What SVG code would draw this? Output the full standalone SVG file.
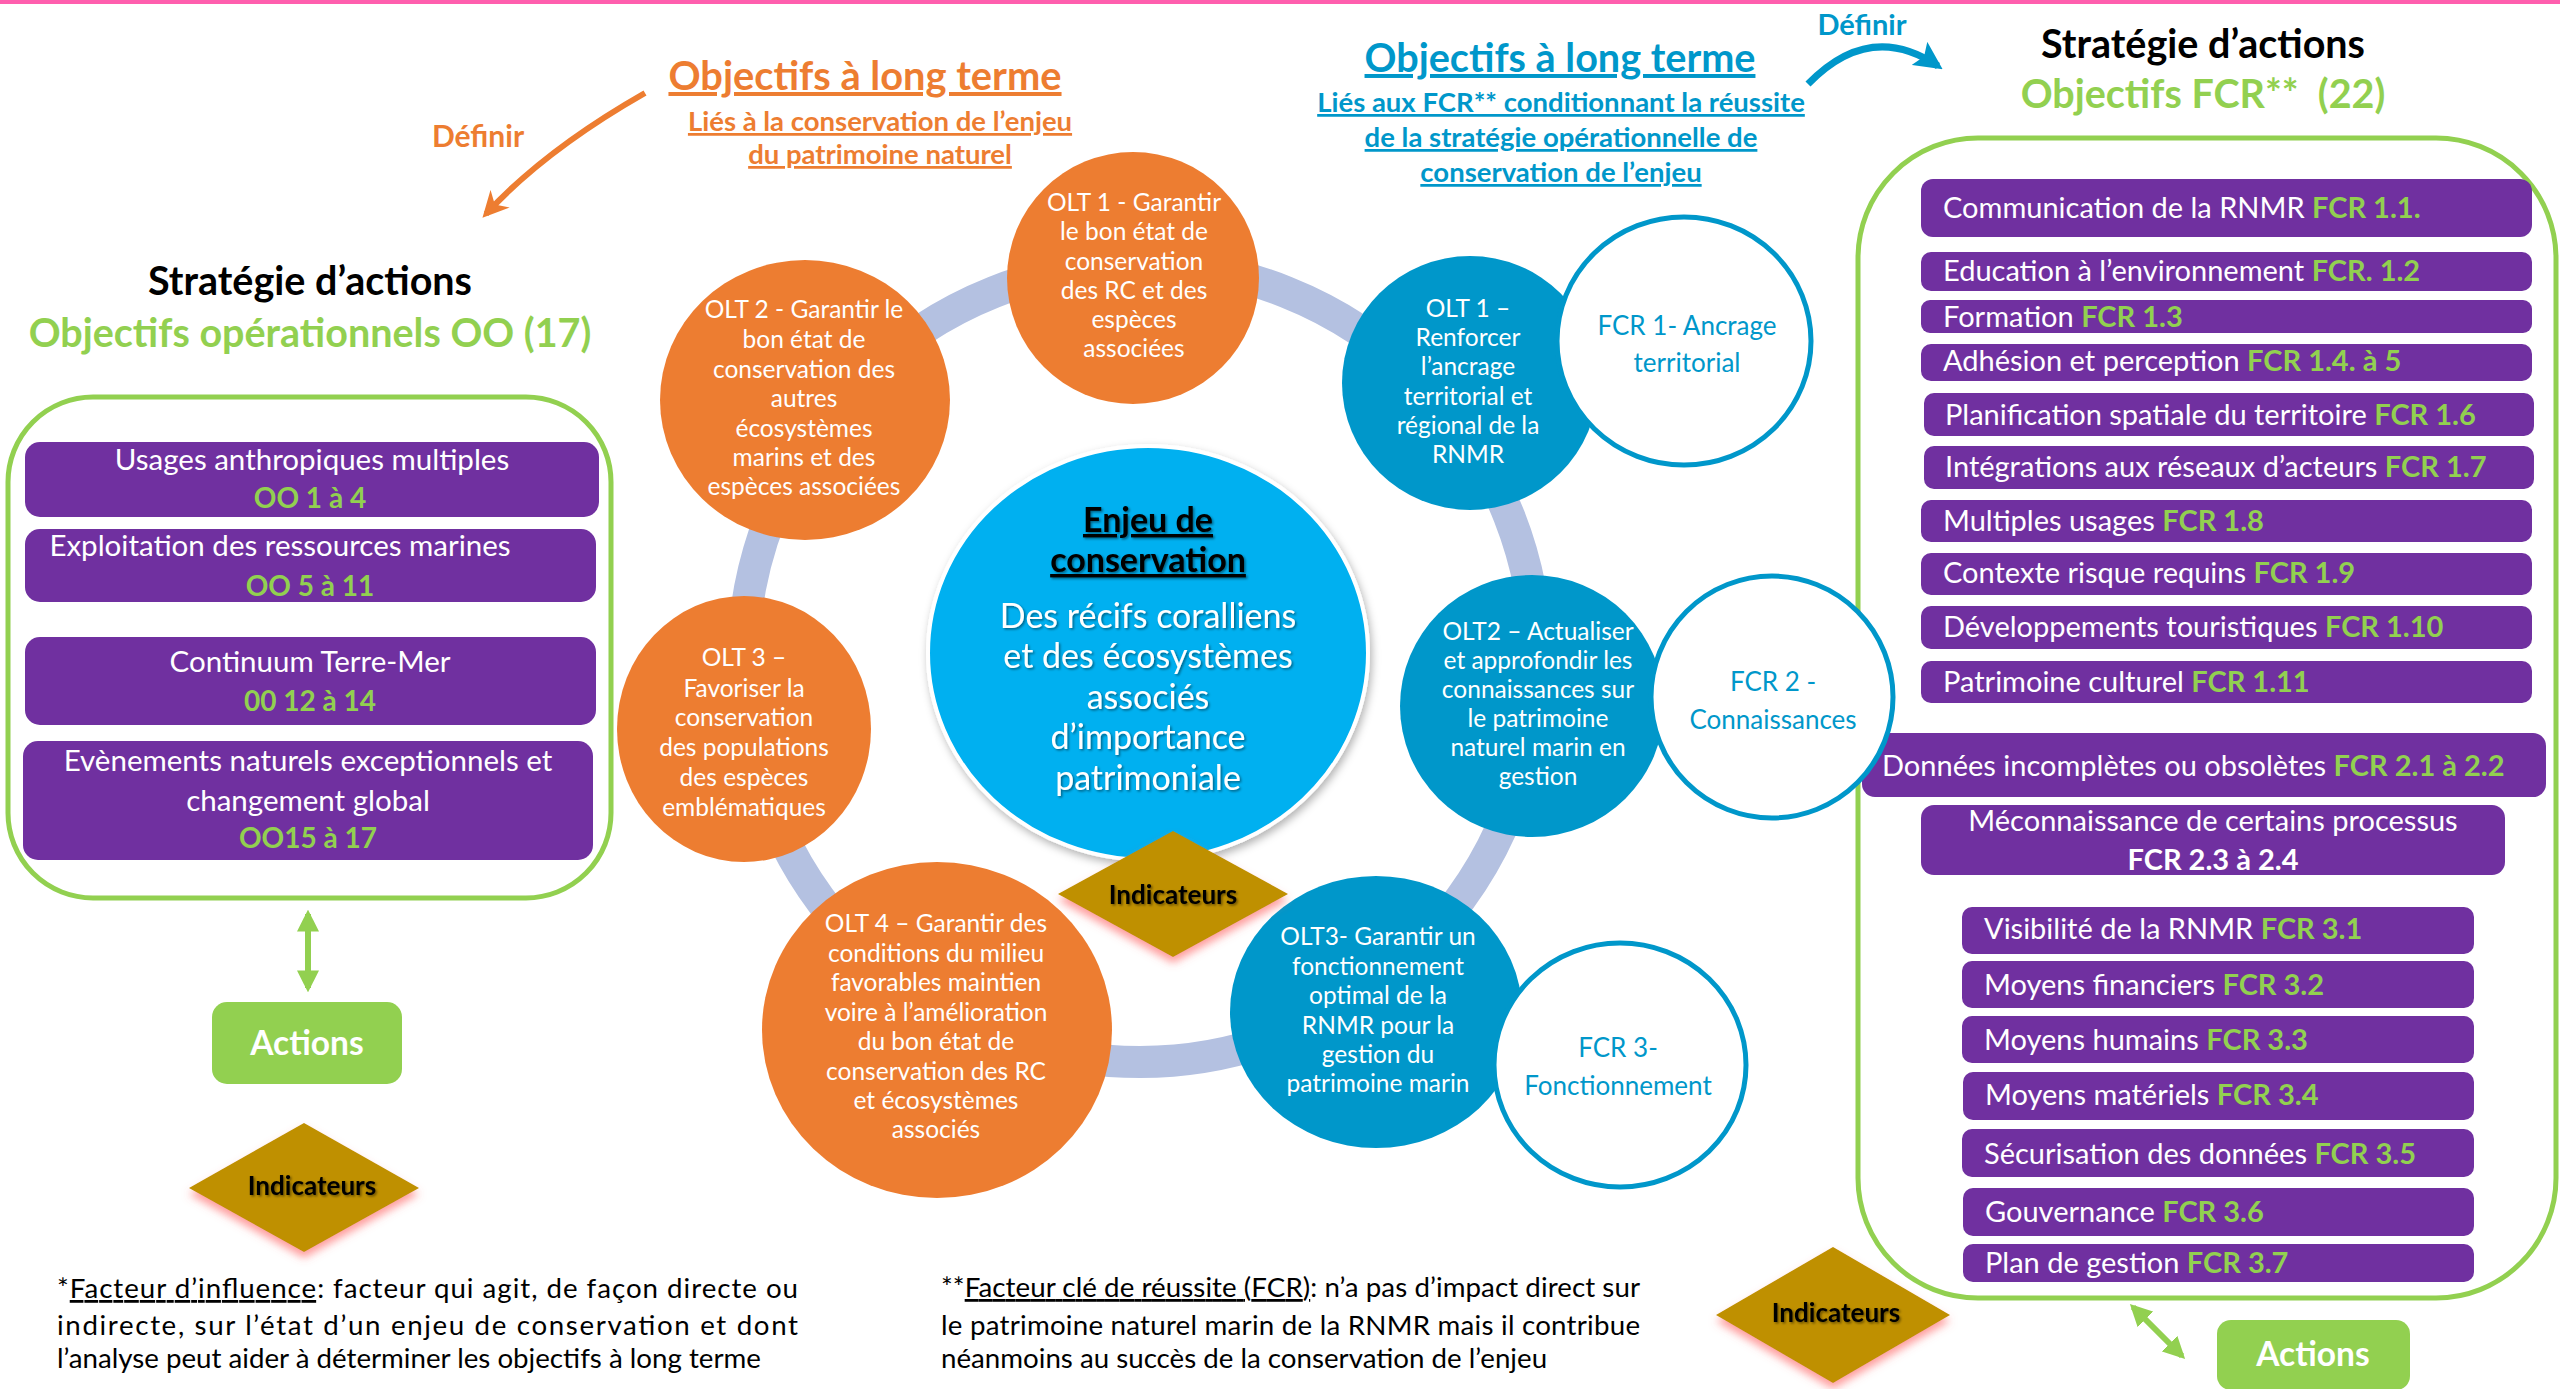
<svg xmlns="http://www.w3.org/2000/svg" width="2560" height="1389" viewBox="0 0 2560 1389">
<defs>
<style>
text{font-family:Lato,"Open Sans","Liberation Sans",sans-serif;}
.w{fill:#fff;}
.g{fill:#92D050;font-weight:bold;}
.olt{fill:#fff;font-size:24.5px;text-anchor:middle;}
.fcrc{fill:#0097CA;font-size:26px;text-anchor:middle;}
.bar{fill:#7030A0;}
.rb{fill:#fff;font-size:29px;}
.lb{fill:#fff;font-size:29.5px;text-anchor:middle;}
.lbg{fill:#92D050;font-size:28px;font-weight:bold;text-anchor:middle;}
.ind{font-size:26px;font-weight:bold;fill:#000;text-anchor:middle;}
.act{font-size:33.5px;font-weight:bold;fill:#fff;text-anchor:middle;}
.foot{font-size:27.7px;fill:#000;}
.ttl{font-size:39.5px;font-weight:bold;text-anchor:middle;}
.u{text-decoration:underline;}
</style>
<filter id="tsh" x="-10%" y="-20%" width="130%" height="150%"><feDropShadow dx="1.5" dy="1.5" stdDeviation="1" flood-color="#000" flood-opacity="0.45"/></filter>
<filter id="dglow" x="-20%" y="-20%" width="140%" height="150%"><feDropShadow dx="0" dy="6" stdDeviation="4" flood-color="#ff5a5a" flood-opacity="0.6"/></filter>
<filter id="csh" x="-10%" y="-10%" width="120%" height="125%"><feDropShadow dx="2" dy="4" stdDeviation="4" flood-color="#000" flood-opacity="0.3"/></filter>
<marker id="aOr" viewBox="0 0 10 10" refX="8" refY="5" markerWidth="26" markerHeight="26" markerUnits="userSpaceOnUse" orient="auto"><path d="M0,0 L10,5 L0,10 L3,5 z" fill="#ED7D31"/></marker>
<marker id="aBl" viewBox="0 0 10 10" refX="8" refY="5" markerWidth="28" markerHeight="28" markerUnits="userSpaceOnUse" orient="auto"><path d="M0,0 L10,5 L0,10 L2,5 z" fill="#0097CA"/></marker>
<marker id="aGr" viewBox="0 0 10 10" refX="8" refY="5" markerWidth="22" markerHeight="22" markerUnits="userSpaceOnUse" orient="auto-start-reverse"><path d="M0,0 L10,5 L0,10 z" fill="#92D050"/></marker>
</defs>
<rect width="2560" height="1389" fill="#fff"/>
<rect x="0" y="0" width="2560" height="4" fill="#FF5FAE"/>

<!-- Left headings -->
<g id="titre-olt-orange">
<text x="865" y="90" font-size="39.8" font-weight="bold" fill="#ED7D31" text-anchor="middle" class="u">Objectifs à long terme</text>
<text x="880" y="131" font-size="27.5" font-weight="bold" fill="#ED7D31" text-anchor="middle" class="u">Liés à la conservation de l’enjeu</text>
<text x="880" y="164" font-size="27.5" font-weight="bold" fill="#ED7D31" text-anchor="middle" class="u">du patrimoine naturel</text>
</g>
<g id="definir-gauche"><text x="478" y="147" font-size="30" font-weight="bold" fill="#ED7D31" text-anchor="middle">Définir</text></g>
<g id="strat-gauche">
<text x="310" y="295" class="ttl" fill="#000">Stratégie d’actions</text>
<text x="310" y="347" class="ttl" fill="#92D050">Objectifs opérationnels OO (17)</text>
</g>

<!-- Right headings -->
<g id="titre-olt-bleu">
<text x="1560" y="72" font-size="39.6" font-weight="bold" fill="#0097CA" text-anchor="middle" class="u">Objectifs à long terme</text>
<text x="1561" y="112" font-size="27.5" font-weight="bold" fill="#0097CA" text-anchor="middle" class="u">Liés aux FCR** conditionnant la réussite</text>
<text x="1561" y="147" font-size="27.5" font-weight="bold" fill="#0097CA" text-anchor="middle" class="u">de la stratégie opérationnelle de</text>
<text x="1561" y="182" font-size="27.5" font-weight="bold" fill="#0097CA" text-anchor="middle" class="u">conservation de l’enjeu</text>
</g>
<g id="definir-droite"><text x="1862" y="35" font-size="29" font-weight="bold" fill="#0097CA" text-anchor="middle">Définir</text></g>
<g id="strat-droite">
<text x="2203" y="58" class="ttl" fill="#000">Stratégie d’actions</text>
<text x="2203" y="108" class="ttl" fill="#92D050">Objectifs FCR**&#160; (22)</text>
</g>

<!-- Left box -->
<g id="boite-oo">
<rect x="8" y="397" width="603" height="501" rx="85" fill="none" stroke="#92D050" stroke-width="5"/>
<rect class="bar" x="25" y="442" width="574" height="75" rx="15"/>
<text class="lb" x="312" y="470">Usages anthropiques multiples</text>
<text class="lbg" x="310" y="508">OO 1 à 4</text>
<rect class="bar" x="25" y="529" width="571" height="73" rx="15"/>
<text class="lb" x="280" y="556">Exploitation des ressources marines</text>
<text class="lbg" x="310" y="596">OO 5 à 11</text>
<rect class="bar" x="25" y="637" width="571" height="88" rx="15"/>
<text class="lb" x="310" y="672">Continuum Terre-Mer</text>
<text class="lbg" x="310" y="711">00 12 à 14</text>
<rect class="bar" x="23" y="741" width="570" height="119" rx="15"/>
<text class="lb" x="308" y="771">Evènements naturels exceptionnels et</text>
<text class="lb" x="308" y="811">changement global</text>
<text class="lbg" x="308" y="848">OO15 à 17</text>
</g>

<g id="actions-gauche">
<rect x="212" y="1002" width="190" height="82" rx="15" fill="#92D050"/>
<text class="act" x="307" y="1055">Actions</text>
</g>
<g id="indicateurs-gauche">
<polygon points="304,1123 419,1188 304,1252 189,1188" fill="#BF9000" filter="url(#dglow)"/>
<text class="ind" x="312" y="1195" filter="url(#tsh)">Indicateurs</text>
</g>

<!-- Right box -->
<g id="boite-fcr">
<rect x="1858" y="138" width="698" height="1160" rx="120" fill="none" stroke="#92D050" stroke-width="5"/>
<rect class="bar" x="1921" y="179" width="611" height="58" rx="12"/>
<text class="rb" x="1943" y="218">Communication de la RNMR <tspan class="g">FCR 1.1.</tspan></text>
<rect class="bar" x="1921" y="252" width="611" height="39" rx="10"/>
<text class="rb" x="1943" y="281">Education à l’environnement <tspan class="g">FCR. 1.2</tspan></text>
<rect class="bar" x="1921" y="300" width="611" height="33" rx="9"/>
<text class="rb" x="1943" y="327">Formation <tspan class="g">FCR 1.3</tspan></text>
<rect class="bar" x="1921" y="344" width="611" height="37" rx="10"/>
<text class="rb" x="1943" y="371">Adhésion et perception <tspan class="g">FCR 1.4. à 5</tspan></text>
<rect class="bar" x="1924" y="393" width="610" height="43" rx="10"/>
<text class="rb" x="1945" y="425">Planification spatiale du territoire <tspan class="g">FCR 1.6</tspan></text>
<rect class="bar" x="1924" y="446" width="610" height="43" rx="10"/>
<text class="rb" x="1945" y="477">Intégrations aux réseaux d’acteurs <tspan class="g">FCR 1.7</tspan></text>
<rect class="bar" x="1921" y="500" width="611" height="42" rx="10"/>
<text class="rb" x="1943" y="531">Multiples usages <tspan class="g">FCR 1.8</tspan></text>
<rect class="bar" x="1921" y="553" width="611" height="42" rx="10"/>
<text class="rb" x="1943" y="583">Contexte risque requins <tspan class="g">FCR 1.9</tspan></text>
<rect class="bar" x="1921" y="606" width="611" height="43" rx="10"/>
<text class="rb" x="1943" y="637">Développements touristiques <tspan class="g">FCR 1.10</tspan></text>
<rect class="bar" x="1921" y="661" width="611" height="42" rx="10"/>
<text class="rb" x="1943" y="692">Patrimoine culturel <tspan class="g">FCR 1.11</tspan></text>
<rect class="bar" x="1862" y="733" width="684" height="64" rx="13"/>
<text class="rb" x="1882" y="776" font-size="27.5">Données incomplètes ou obsolètes <tspan class="g">FCR 2.1 à 2.2</tspan></text>
<rect class="bar" x="1921" y="805" width="584" height="70" rx="13"/>
<text class="rb" x="2213" y="831" text-anchor="middle">Méconnaissance de certains processus</text>
<text class="rb g" x="2213" y="870" text-anchor="middle">FCR 2.3 à 2.4</text>
<rect class="bar" x="1962" y="907" width="512" height="47" rx="10"/>
<text class="rb" x="1984" y="939">Visibilité de la RNMR <tspan class="g">FCR 3.1</tspan></text>
<rect class="bar" x="1962" y="961" width="512" height="47" rx="10"/>
<text class="rb" x="1984" y="995">Moyens financiers <tspan class="g">FCR 3.2</tspan></text>
<rect class="bar" x="1962" y="1016" width="512" height="47" rx="10"/>
<text class="rb" x="1984" y="1050">Moyens humains <tspan class="g">FCR 3.3</tspan></text>
<rect class="bar" x="1963" y="1072" width="511" height="48" rx="10"/>
<text class="rb" x="1985" y="1105">Moyens matériels <tspan class="g">FCR 3.4</tspan></text>
<rect class="bar" x="1962" y="1129" width="512" height="48" rx="10"/>
<text class="rb" x="1984" y="1164">Sécurisation des données <tspan class="g">FCR 3.5</tspan></text>
<rect class="bar" x="1963" y="1188" width="511" height="48" rx="10"/>
<text class="rb" x="1985" y="1222">Gouvernance <tspan class="g">FCR 3.6</tspan></text>
<rect class="bar" x="1963" y="1244" width="511" height="38" rx="10"/>
<text class="rb" x="1985" y="1273">Plan de gestion <tspan class="g">FCR 3.7</tspan></text>
</g>

<g id="actions-droite">
<rect x="2217" y="1320" width="193" height="70" rx="14" fill="#92D050"/>
<text class="act" x="2313" y="1366">Actions</text>
</g>
<g id="indicateurs-droite">
<polygon points="1833,1247 1950,1315 1833,1383 1716,1315" fill="#BF9000" filter="url(#dglow)"/>
<text class="ind" x="1836" y="1322" filter="url(#tsh)">Indicateurs</text>
</g>

<!-- Connectors -->
<g id="connecteurs" fill="none">
<ellipse cx="1140" cy="663" rx="397" ry="399" stroke="#B4C1E1" stroke-width="32"/>
<path d="M645,93 Q545,150 486,214" stroke="#ED7D31" stroke-width="6" marker-end="url(#aOr)"/>
<path d="M1808,84 Q1870,20 1938,66" stroke="#0097CA" stroke-width="7" marker-end="url(#aBl)"/>
<line x1="308" y1="914" x2="308" y2="988" stroke="#92D050" stroke-width="6" marker-start="url(#aGr)" marker-end="url(#aGr)"/>
<line x1="2133" y1="1307" x2="2182" y2="1356" stroke="#92D050" stroke-width="6" marker-start="url(#aGr)" marker-end="url(#aGr)"/>
</g>

<!-- Orange OLT circles -->
<g id="olt1-orange">
<ellipse cx="1133" cy="278" rx="126" ry="126" fill="#ED7D31"/>
<text class="olt" x="1134" y="211">OLT 1 - Garantir</text>
<text class="olt" x="1134" y="240">le bon état de</text>
<text class="olt" x="1134" y="270">conservation</text>
<text class="olt" x="1134" y="299">des RC et des</text>
<text class="olt" x="1134" y="328">espèces</text>
<text class="olt" x="1134" y="357">associées</text>
</g>
<g id="olt2-orange">
<ellipse cx="805" cy="400" rx="145" ry="140" fill="#ED7D31"/>
<text class="olt" x="804" y="318">OLT 2 - Garantir le</text>
<text class="olt" x="804" y="348">bon état de</text>
<text class="olt" x="804" y="378">conservation des</text>
<text class="olt" x="804" y="407">autres</text>
<text class="olt" x="804" y="437">écosystèmes</text>
<text class="olt" x="804" y="466">marins et des</text>
<text class="olt" x="804" y="495">espèces associées</text>
</g>
<g id="olt3-orange">
<ellipse cx="744" cy="729" rx="127" ry="133" fill="#ED7D31"/>
<text class="olt" x="744" y="666">OLT 3 –</text>
<text class="olt" x="744" y="697">Favoriser la</text>
<text class="olt" x="744" y="726">conservation</text>
<text class="olt" x="744" y="756">des populations</text>
<text class="olt" x="744" y="786">des espèces</text>
<text class="olt" x="744" y="816">emblématiques</text>
</g>
<g id="olt4-orange">
<ellipse cx="937" cy="1030" rx="175" ry="168" fill="#ED7D31"/>
<text class="olt" x="936" y="932">OLT 4 – Garantir des</text>
<text class="olt" x="936" y="962">conditions du milieu</text>
<text class="olt" x="936" y="991">favorables maintien</text>
<text class="olt" x="936" y="1021">voire à l’amélioration</text>
<text class="olt" x="936" y="1050">du bon état de</text>
<text class="olt" x="936" y="1080">conservation des RC</text>
<text class="olt" x="936" y="1109">et écosystèmes</text>
<text class="olt" x="936" y="1138">associés</text>
</g>

<!-- Blue OLT circles -->
<g id="olt1-bleu">
<ellipse cx="1470" cy="383" rx="128" ry="127" fill="#0097CA"/>
<text class="olt" x="1468" y="317">OLT 1 –</text>
<text class="olt" x="1468" y="346">Renforcer</text>
<text class="olt" x="1468" y="375">l’ancrage</text>
<text class="olt" x="1468" y="405">territorial et</text>
<text class="olt" x="1468" y="434">régional de la</text>
<text class="olt" x="1468" y="463">RNMR</text>
</g>
<g id="fcr1">
<ellipse cx="1684" cy="341" rx="127" ry="124" fill="#fff" stroke="#0097CA" stroke-width="5"/>
<text class="fcrc" x="1687" y="335">FCR 1- Ancrage</text>
<text class="fcrc" x="1687" y="372">territorial</text>
</g>
<g id="olt2-bleu">
<ellipse cx="1532" cy="706" rx="132" ry="131" fill="#0097CA"/>
<text class="olt" x="1538" y="640">OLT2 – Actualiser</text>
<text class="olt" x="1538" y="669">et approfondir les</text>
<text class="olt" x="1538" y="698">connaissances sur</text>
<text class="olt" x="1538" y="727">le patrimoine</text>
<text class="olt" x="1538" y="756">naturel marin en</text>
<text class="olt" x="1538" y="785">gestion</text>
</g>
<g id="fcr2">
<ellipse cx="1772" cy="697" rx="121" ry="121" fill="#fff" stroke="#0097CA" stroke-width="5"/>
<text class="fcrc" x="1773" y="691">FCR 2 -</text>
<text class="fcrc" x="1773" y="729">Connaissances</text>
</g>
<g id="olt3-bleu">
<ellipse cx="1376" cy="1012" rx="146" ry="136" fill="#0097CA"/>
<text class="olt" x="1378" y="945">OLT3- Garantir un</text>
<text class="olt" x="1378" y="975">fonctionnement</text>
<text class="olt" x="1378" y="1004">optimal de la</text>
<text class="olt" x="1378" y="1034">RNMR pour la</text>
<text class="olt" x="1378" y="1063">gestion du</text>
<text class="olt" x="1378" y="1092">patrimoine marin</text>
</g>
<g id="fcr3">
<ellipse cx="1620" cy="1065" rx="126" ry="122" fill="#fff" stroke="#0097CA" stroke-width="5"/>
<text class="fcrc" x="1618" y="1057">FCR 3-</text>
<text class="fcrc" x="1618" y="1095">Fonctionnement</text>
</g>

<!-- Center -->
<g id="enjeu">
<ellipse cx="1148" cy="653" rx="220" ry="207" fill="#00B0F0" stroke="#fff" stroke-width="4" filter="url(#csh)"/>
<g filter="url(#tsh)">
<text x="1148" y="532" font-size="34" font-weight="bold" fill="#000" text-anchor="middle" class="u">Enjeu de</text>
<text x="1148" y="572" font-size="34" font-weight="bold" fill="#000" text-anchor="middle" class="u">conservation</text>
<text x="1148" y="628" font-size="34" fill="#fff" text-anchor="middle">Des récifs coralliens</text>
<text x="1148" y="668" font-size="34" fill="#fff" text-anchor="middle">et des écosystèmes</text>
<text x="1148" y="709" font-size="34" fill="#fff" text-anchor="middle">associés</text>
<text x="1148" y="749" font-size="34" fill="#fff" text-anchor="middle">d’importance</text>
<text x="1148" y="790" font-size="34" fill="#fff" text-anchor="middle">patrimoniale</text>
</g>
</g>
<g id="indicateurs-centre">
<polygon points="1173,831 1288,894 1173,957 1058,894" fill="#BF9000" filter="url(#dglow)"/>
<text class="ind" x="1173" y="904" filter="url(#tsh)">Indicateurs</text>
</g>

<!-- Footnotes -->
<g id="note-fi">
<text class="foot" x="57" y="1298" textLength="741" lengthAdjust="spacing">*<tspan class="u">Facteur d’influence</tspan>: facteur qui agit, de façon directe ou</text>
<text class="foot" x="57" y="1335" textLength="741" lengthAdjust="spacing">indirecte, sur l’état d’un enjeu de conservation et dont</text>
<text class="foot" x="57" y="1368">l’analyse peut aider à déterminer les objectifs à long terme</text>
</g>
<g id="note-fcr">
<text class="foot" x="941" y="1297" textLength="699" lengthAdjust="spacing">**<tspan class="u">Facteur clé de réussite (FCR)</tspan>: n’a pas d’impact direct sur</text>
<text class="foot" x="941" y="1335" textLength="699" lengthAdjust="spacing">le patrimoine naturel marin de la RNMR mais il contribue</text>
<text class="foot" x="941" y="1368">néanmoins au succès de la conservation de l’enjeu</text>
</g>
</svg>
